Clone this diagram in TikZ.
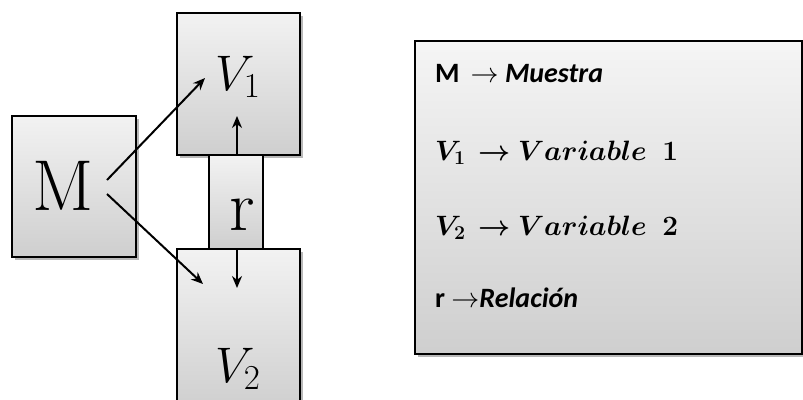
\RequirePackage{fix-cm}
\documentclass[tikz,border=0pt]{standalone}
\usepackage{amsmath}
\usepackage{bm}
\usepackage{fontspec}
\newfontfamily\calibfont{Carlito}
\usetikzlibrary{arrows.meta}
\tikzset{
  box/.style={draw=black, line width=1.6pt, top color=gray!10, bottom color=gray!38, minimum width=#1},
  shadowbox/.style={fill=black!28, draw=none},
  conn/.style={line width=2pt, -{Stealth[length=12pt,width=10pt]}},
  big/.style={inner sep=0pt, anchor=base, font=\fontsize{72}{72}\selectfont},
  mid/.style={inner sep=0pt, anchor=base, font=\fontsize{50}{50}\selectfont},
  leg/.style={inner sep=0pt, anchor=base west, font=\fontsize{28}{28}\selectfont}
}
\begin{document}
\begin{tikzpicture}[x=1pt,y=-1pt]
\useasboundingbox (0,0) rectangle (803,399);
\clip (0,0) rectangle (803,399);
% shadows
\fill[shadowbox] (15,119) rectangle (139,260);
\fill[shadowbox] (180,16) rectangle (303,158);
\fill[shadowbox] (180,252) rectangle (303,420);
\fill[shadowbox] (418,44) rectangle (806,357);
% boxes
\node[box=124pt, minimum height=141pt, inner sep=0pt] (M) at (74,186.5) {};
\node[box=123pt, minimum height=142pt, inner sep=0pt] (V1) at (238.5,84) {};
\node[box=123pt, minimum height=162pt, inner sep=0pt] (V2) at (238.5,330) {};
\node[box=54pt, minimum height=94pt, inner sep=0pt] (r) at (236,202) {};
\node[draw=black, line width=1.6pt, top color=gray!8, bottom color=gray!38, minimum width=387pt, minimum height=313pt, inner sep=0pt] (L) at (608.5,197.5) {};
% texts
\node[big] (tM) at (63,210) {M};
\node[mid] (tV1) at (238,90) {$V_1$};
\node[big] (tr) at (242,230) {r};
\node[mid] (tV2) at (238,382) {$V_2$};
% connectors
\coordinate (m1) at (107,180);
\coordinate (m2) at (107,194);
\coordinate (e1) at (205,78);
\coordinate (e2) at (203,284);
\coordinate (u1) at (237,116);
\coordinate (d1) at (237,288);
\draw[conn] (m1) -- (e1);
\draw[conn] (m2) -- (e2);
\draw[conn] (r.north -| u1) -- (u1);
\draw[conn] (r.south -| d1) -- (d1);
% legend
\node[leg] (l1) at (435,82) {\calibfont\bfseries M\, $\rightarrow$ \itshape Muestra};
\node[leg] (l2) at (435,160) {$\bm{V_1}\, \bm{\rightarrow} \bm{Variable}\;\;\bm{1}$};
\node[leg] (l3) at (435,235) {$\bm{V_2}\, \bm{\rightarrow} \bm{Variable}\;\;\bm{2}$};
\node[leg] (l4) at (435,307) {\calibfont\bfseries r $\rightarrow$\itshape Relación};
\end{tikzpicture}
\end{document}
